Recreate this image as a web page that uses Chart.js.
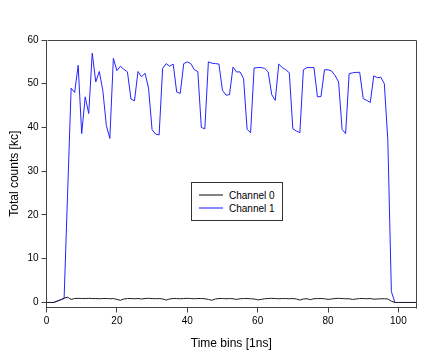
<!DOCTYPE html>
<html>
<head>
<meta charset="utf-8">
<script src="https://cdn.jsdelivr.net/npm/chart.js@4"></script>
<style>
    body { margin: 0; background: #fff; }
    #wrap { position: relative; width: 438px; height: 354px; }
    #legend {
        position: absolute; left: 191px; top: 182px; width: 90px; height: 37px;
        border: 1px solid #333; background: #fff;
        font-family: "Liberation Sans", Arial, sans-serif; font-size: 10px; color: #000;
    }
    .leg-row { position: absolute; left: 0; height: 12px; display: flex; align-items: center; }
    .leg-line { width: 24px; height: 2px; margin-left: 7px; margin-right: 6px; opacity: 0.55; }
</style>
</head>
<body>
<div id="wrap">
    <canvas id="chart" width="438" height="354"></canvas>
    <div id="legend"></div>
</div>
<script>
// time bins (1 ns each)
const timeBins = [
    0, 1, 2, 3, 4, 5, 6, 7, 8, 9, 10, 11, 12, 13, 14, 15, 16, 17, 18, 19,
    20, 21, 22, 23, 24, 25, 26, 27, 28, 29, 30, 31, 32, 33, 34, 35, 36, 37, 38, 39,
    40, 41, 42, 43, 44, 45, 46, 47, 48, 49, 50, 51, 52, 53, 54, 55, 56, 57, 58, 59,
    60, 61, 62, 63, 64, 65, 66, 67, 68, 69, 70, 71, 72, 73, 74, 75, 76, 77, 78, 79,
    80, 81, 82, 83, 84, 85, 86, 87, 88, 89, 90, 91, 92, 93, 94, 95, 96, 97, 98, 99,
    100, 101, 102, 103, 104, 105
];

// total counts [kc]
const channel0 = [
    0, 0, 0, 0.3, 0.6, 1.0, 1.2, 0.7, 0.9, 0.95, 0.9, 0.9, 0.95, 0.9, 0.9, 0.85, 0.9, 0.9, 0.85, 0.9,
    0.7, 0.5, 0.8, 0.9, 0.9, 0.85, 0.9, 0.8, 0.9, 0.95, 0.9, 0.85, 0.9, 0.8, 0.55, 0.8, 0.9, 0.9, 0.85, 0.9,
    0.95, 0.9, 0.85, 0.9, 0.9, 0.85, 0.7, 0.5, 0.8, 0.9, 0.9, 0.85, 0.9, 0.85, 0.7, 0.85, 0.9, 0.9, 0.85, 0.8,
    0.6, 0.7, 0.85, 0.9, 0.95, 0.9, 0.85, 0.9, 0.9, 0.85, 0.9, 0.8, 0.55, 0.8, 0.85, 0.65, 0.85, 0.9, 0.9, 0.85,
    0.7, 0.8, 0.9, 0.95, 0.9, 0.85, 0.85, 0.7, 0.8, 0.9, 0.9, 0.85, 0.9, 0.75, 0.8, 0.85, 0.85, 0.8, 0.3, 0,
    0, 0, 0, 0, 0, 0
];
const channel1 = [
    0, 0, 0, 0.3, 0.6, 0.9, 25, 49, 48, 54.2, 38.6, 47, 43.2, 57, 50.4, 52.8, 48.5, 40.5, 37.5, 55.8,
    53, 54, 53.3, 52.7, 46.5, 46.1, 52.8, 51.6, 52.4, 49, 39.5, 38.5, 38.3, 53.5, 54.6, 54, 54.5, 48.1, 47.8, 54.6,
    55, 54.6, 53.2, 52.8, 40, 39.7, 55, 54.7, 54.6, 54.5, 48.5, 47.4, 47.5, 53.8, 52.7, 52.7, 51.2, 39.6, 38.8, 53.6,
    53.7, 53.7, 53.5, 52.7, 47.5, 46.2, 54.5, 53.7, 53.2, 52.5, 39.7, 39.2, 38.8, 53.2, 53.7, 53.7, 53.7, 47, 47.1, 53.2,
    53.2, 52.9, 51.9, 50.4, 39.6, 38.6, 52.3, 52.5, 52.6, 52.6, 46.6, 46.2, 45.7, 51.8, 51.4, 51.5, 50, 37, 2.5, 0,
    0, 0, 0, 0, 0, 0
];

const xTicks = [0, 20, 40, 60, 80, 100];
const yTicks = [0, 10, 20, 30, 40, 50, 60];

const FONT = '"Liberation Sans", Arial, sans-serif';
const AXIS = '#444';

// top and right sides of the frame
const framePlugin = {
    id: 'frame',
    afterDraw(chart) {
        const { ctx, chartArea: a } = chart;
        ctx.save();
        ctx.strokeStyle = AXIS;
        ctx.lineWidth = 1;
        ctx.beginPath();
        ctx.moveTo(Math.round(a.left) + 0.5, Math.round(a.top) + 0.5);
        ctx.lineTo(Math.round(a.right) + 0.5, Math.round(a.top) + 0.5);
        ctx.lineTo(Math.round(a.right) + 0.5, Math.round(a.bottom) + 0.5);
        ctx.stroke();
        ctx.restore();
    }
};

const chart = new Chart(document.getElementById('chart'), {
    type: 'line',
    data: {
        labels: timeBins,
        datasets: [
            { label: 'Channel 0', data: channel0, borderColor: '#1e1e1e' },
            { label: 'Channel 1', data: channel1, borderColor: '#2424ff' }
        ]
    },
    options: {
        responsive: false,
        animation: false,
        layout: { padding: { top: 40, right: 22, left: 0, bottom: 0 } },
        elements: {
            point: { radius: 0 },
            line: { borderWidth: 1, tension: 0, fill: false }
        },
        plugins: { legend: { display: false }, tooltip: { enabled: false } },
        scales: {
            x: {
                type: 'linear', min: 0, max: 105,
                afterBuildTicks: s => { s.ticks = xTicks.map(v => ({ value: v })); },
                afterFit: s => { s.height = 46.5; },
                grid: { drawOnChartArea: false, tickLength: 5, color: AXIS },
                border: { color: AXIS },
                ticks: { font: { family: FONT, size: 10 }, color: '#000', padding: 3, maxRotation: 0 },
                title: { display: true, text: 'Time bins [1ns]', color: '#000',
                         font: { family: FONT, size: 12 }, padding: { top: 0, bottom: 3 } }
            },
            y: {
                min: -1.15, max: 60,
                afterBuildTicks: s => { s.ticks = yTicks.map(v => ({ value: v })); },
                afterFit: s => { s.width = 46.5; },
                grid: { drawOnChartArea: false, tickLength: 5, color: AXIS },
                border: { color: AXIS },
                ticks: { font: { family: FONT, size: 10 }, color: '#000', padding: 3 },
                title: { display: true, text: 'Total counts [kc]', color: '#000',
                         font: { family: FONT, size: 12 }, padding: { top: 7, bottom: 0 } }
            }
        }
    },
    plugins: [framePlugin]
});

// legend box in the middle of the plot
document.getElementById('legend').innerHTML = chart.data.datasets.map((d, i) => `
    <div class="leg-row" style="top:${6 + i * 13}px;">
        <div class="leg-line" style="background:${d.borderColor};"></div>
        <span>${d.label}</span>
    </div>`).join('');
</script>
</body>
</html>
